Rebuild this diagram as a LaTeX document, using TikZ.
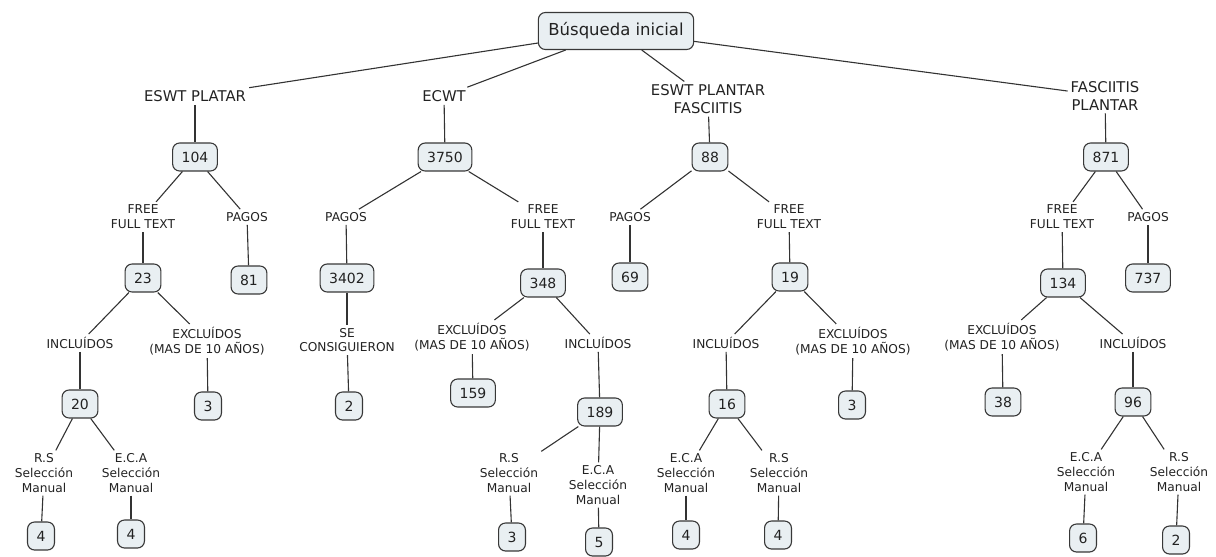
\documentclass[tikz,border=0pt]{standalone}
\usepackage{fontspec}
\setmainfont{DejaVu Sans}
\definecolor{boxfill}{HTML}{E9EFF2}
\definecolor{boxline}{HTML}{383838}
\definecolor{txt}{HTML}{222222}
\definecolor{linec}{HTML}{333333}
\begin{document}
\begin{tikzpicture}[x=1pt,y=-1pt,
  box/.style={draw=boxline, fill=boxfill, rounded corners=7pt, line width=1.1pt,
    inner xsep=9pt, inner ysep=0pt, minimum height=28pt, text=txt,
    font=\fontsize{14}{16}\selectfont},
  rootbox/.style={box, minimum height=37pt, inner xsep=10pt, font=\fontsize{16.5}{19}\selectfont},
  toplbl/.style={align=center, inner sep=3pt, text=txt, font=\fontsize{14.8}{17.5}\selectfont},
  lbl/.style={align=center, inner sep=3pt, text=txt, font=\fontsize{12.2}{14.8}\selectfont},
  con/.style={draw=linec, line width=1.1pt}]
\useasboundingbox (0,0) rectangle (1216,557);
% root
\node[rootbox] (r) at (616,31) {Búsqueda inicial};
% level 1
\node[toplbl] (a) at (195,96) {ESWT PLATAR};
\node[toplbl] (b) at (444,96) {ECWT};
\node[toplbl] (c) at (708,99) {ESWT PLANTAR\\FASCIITIS};
\node[toplbl] (d) at (1105,96) {FASCIITIS\\PLANTAR};
% level 2
\node[box] (n104) at (195,157) {104};
\node[box] (n3750) at (445,157) {3750};
\node[box] (n88) at (710,157) {88};
\node[box] (n871) at (1106,157) {871};
% level 3
\node[lbl] (a1) at (143,217) {FREE\\FULL TEXT};
\node[lbl] (a2) at (247,217) {PAGOS};
\node[lbl] (b1) at (346,217) {PAGOS};
\node[lbl] (b2) at (543,217) {FREE\\FULL TEXT};
\node[lbl] (c1) at (630,217) {PAGOS};
\node[lbl] (c2) at (789,217) {FREE\\FULL TEXT};
\node[lbl] (d1) at (1062,217) {FREE\\FULL TEXT};
\node[lbl] (d2) at (1148,217) {PAGOS};
% level 4
\node[box] (n23) at (143,278) {23};
\node[box] (n81) at (249,280) {81};
\node[box] (n3402) at (347,278) {3402};
\node[box] (n348) at (543,283) {348};
\node[box] (n69) at (630,277) {69};
\node[box] (n19) at (790,277) {19};
\node[box] (n134) at (1063,283) {134};
\node[box] (n737) at (1148,278) {737};
% level 5
\node[lbl] (a11) at (80,343) {INCLUÍDOS};
\node[lbl] (a12) at (207,341) {EXCLUÍDOS\\(MAS DE 10 AÑOS)};
\node[lbl] (b11) at (347,340) {SE\\CONSIGUIERON};
\node[lbl] (b21) at (472,337) {EXCLUÍDOS\\(MAS DE 10 AÑOS)};
\node[lbl] (b22) at (598,343) {INCLUÍDOS};
\node[lbl] (c21) at (726,343) {INCLUÍDOS};
\node[lbl] (c22) at (853,341) {EXCLUÍDOS\\(MAS DE 10 AÑOS)};
\node[lbl] (d11) at (1002,337) {EXCLUÍDOS\\(MAS DE 10 AÑOS)};
\node[lbl] (d12) at (1133,343) {INCLUÍDOS};
% level 6
\node[box] (n20) at (80,404) {20};
\node[box] (n3a) at (208,406) {3};
\node[box] (n2a) at (349,406) {2};
\node[box] (n159) at (473,393) {159};
\node[box] (n189) at (600,412) {189};
\node[box] (n16) at (727,404) {16};
\node[box] (n3b) at (852,405) {3};
\node[box] (n38) at (1003,402) {38};
\node[box] (n96) at (1133,402) {96};
% level 7
\node[lbl] (a111) at (44,473) {R.S\\Selección\\Manual};
\node[lbl] (a112) at (131,473) {E.C.A\\Selección\\Manual};
\node[lbl] (b221) at (509,473) {R.S\\Selección\\Manual};
\node[lbl] (b222) at (598,485) {E.C.A\\Selección\\Manual};
\node[lbl] (c211) at (686,473) {E.C.A\\Selección\\Manual};
\node[lbl] (c212) at (779,473) {R.S\\Selección\\Manual};
\node[lbl] (d121) at (1086,472) {E.C.A\\Selección\\Manual};
\node[lbl] (d122) at (1179,472) {R.S\\Selección\\Manual};
% level 8
\node[box] (n4a) at (41,536) {4};
\node[box] (n4b) at (131,534) {4};
\node[box] (n3c) at (512,537) {3};
\node[box] (n5) at (599,542) {5};
\node[box] (n4c) at (686,535) {4};
\node[box] (n4d) at (778,535) {4};
\node[box] (n6) at (1083,538) {6};
\node[box] (n2b) at (1176,540) {2};
% connectors
\draw[con] (r) -- (a);
\draw[con] (r) -- (b);
\draw[con] (r) -- (c);
\draw[con] (r) -- (d);
\draw[con] (a) -- (n104);
\draw[con] (b) -- (n3750);
\draw[con] (c) -- (n88);
\draw[con] (d) -- (n871);
\draw[con] (n104) -- (a1);
\draw[con] (n104) -- (a2);
\draw[con] (n3750) -- (b1);
\draw[con] (n3750) -- (b2);
\draw[con] (n88) -- (c1);
\draw[con] (n88) -- (c2);
\draw[con] (n871) -- (d1);
\draw[con] (n871) -- (d2);
\draw[con] (a1) -- (n23);
\draw[con] (a2) -- (n81);
\draw[con] (b1) -- (n3402);
\draw[con] (b2) -- (n348);
\draw[con] (c1) -- (n69);
\draw[con] (c2) -- (n19);
\draw[con] (d1) -- (n134);
\draw[con] (d2) -- (n737);
\draw[con] (n23) -- (a11);
\draw[con] (n23) -- (a12);
\draw[con] (n3402) -- (b11);
\draw[con] (n348) -- (b21);
\draw[con] (n348) -- (b22);
\draw[con] (n19) -- (c21);
\draw[con] (n19) -- (c22);
\draw[con] (n134) -- (d11);
\draw[con] (n134) -- (d12);
\draw[con] (a11) -- (n20);
\draw[con] (a12) -- (n3a);
\draw[con] (b11) -- (n2a);
\draw[con] (b21) -- (n159);
\draw[con] (b22) -- (n189);
\draw[con] (c21) -- (n16);
\draw[con] (c22) -- (n3b);
\draw[con] (d11) -- (n38);
\draw[con] (d12) -- (n96);
\draw[con] (n20) -- (a111);
\draw[con] (n20) -- (a112);
\draw[con] (n189) -- (b221);
\draw[con] (n189) -- (b222);
\draw[con] (n16) -- (c211);
\draw[con] (n16) -- (c212);
\draw[con] (n96) -- (d121);
\draw[con] (n96) -- (d122);
\draw[con] (a111) -- (n4a);
\draw[con] (a112) -- (n4b);
\draw[con] (b221) -- (n3c);
\draw[con] (b222) -- (n5);
\draw[con] (c211) -- (n4c);
\draw[con] (c212) -- (n4d);
\draw[con] (d121) -- (n6);
\draw[con] (d122) -- (n2b);
\end{tikzpicture}
\end{document}
